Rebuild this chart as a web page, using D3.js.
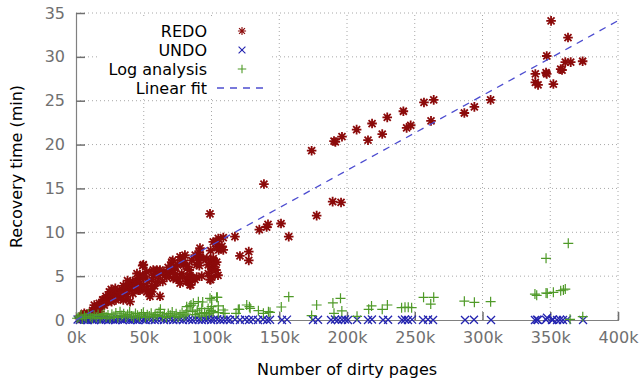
<!DOCTYPE html>
<html>
<head>
<meta charset="utf-8">
<script src="https://cdn.jsdelivr.net/npm/d3@7"></script>
<style>
	body { margin: 0; background: #ffffff; }
	text { font-family: "DejaVu Sans", sans-serif; }
</style>
</head>
<body>
<div id="chart"></div>
<script>
// recovery time vs dirty pages

// x: thousands of dirty pages, y: minutes
var redo = [
	[2.5,0.19],[4.9,0.38],[5.4,0.57],[6.1,0.76],[7.4,0.57],[9.8,0.76],[10.3,0.76],[12.3,1.1],[13.5,1.7],[14.8,1.5],
	[15.3,1.33],[17.2,1.9],[17.2,1.3],[17.7,0.95],[19.0,1.71],[19.7,2.3],[20.1,2.28],[20.9,1.7],[22.1,2.7],[22.7,2.09],
	[23.4,2.1],[24.6,3.2],[25.1,2.66],[25.8,2.3],[26.3,2.09],[27.1,2.85],[27.5,3.04],[28.3,3.0],[29.5,2.3],[30.0,3.04],
	[32.0,2.85],[32.0,3.4],[32.5,2.66],[34.5,3.4],[34.9,2.28],[36.9,3.0],[36.9,3.8],[37.4,2.66],[39.3,3.4],[39.9,2.09],
	[39.9,3.8],[40.6,4.0],[41.8,4.4],[42.3,4.2],[43.0,3.6],[44.3,4.2],[44.8,4.4],[45.5,4.6],[46.0,3.4],[47.2,3.4],
	[47.2,4.2],[47.2,5.1],[48.0,3.8],[49.2,4.9],[49.2,6.2],[49.7,3.8],[49.7,6.3],[52.2,3.2],[52.2,3.6],[52.2,5.5],
	[54.6,2.7],[54.6,3.0],[55.9,3.2],[55.9,3.6],[57.0,5.1],[57.0,5.7],[59.6,5.7],[60.7,5.1],[62.0,2.7],[62.0,5.4],
	[62.0,5.7],[65.7,5.2],[66.9,4.9],[66.9,5.5],[69.4,5.5],[69.4,5.7],[70.6,6.6],[71.4,6.8],[71.8,4.75],[71.8,5.7],
	[73.3,6.1],[74.3,4.75],[74.8,4.75],[76.8,4.2],[76.8,7.2],[77.3,6.8],[78.0,5.3],[78.7,4.9],[79.2,6.3],[79.2,6.8],
	[80.4,7.4],[81.7,4.4],[82.9,4.4],[83.6,5.7],[84.1,4.0],[84.1,4.9],[84.1,5.1],[84.7,4.0],[85.4,6.8],[86.1,4.75],
	[87.8,4.6],[89.1,4.9],[89.1,6.3],[90.3,6.8],[91.0,6.2],[91.0,7.7],[91.5,7.2],[91.5,8.2],[92.8,5.0],[96.5,7.0],
	[97.6,5.3],[97.6,6.3],[98.9,4.6],[98.9,12.1],[99.4,4.6],[99.4,6.8],[99.4,7.9],[100.1,4.9],[100.1,5.9],[100.4,5.8],
	[101.3,6.8],[101.3,7.0],[101.3,8.9],[102.3,6.4],[103.3,5.7],[103.3,8.9],[103.8,6.6],[103.8,8.4],[104.8,5.1],[105.0,9.3],
	[105.3,8.0],[106.3,8.2],[107.7,8.4],[108.7,8.0],[108.7,9.4],[117.3,9.5],[121.0,7.3],[127.5,6.8],[127.5,7.8],[135.3,10.3],
	[138.7,15.5],[140.7,10.6],[141.7,10.9],[151.3,11.0],[157.0,9.5],[173.9,19.3],[177.6,11.9],[189.4,13.5],[190.4,20.4],[191.4,20.3],
	[195.6,13.4],[196.3,20.9],[207.1,21.7],[215.5,20.5],[218.5,22.4],[226.0,21.2],[229.7,23.1],[241.6,23.8],[244.0,21.9],[247.0,22.2],
	[256.8,24.8],[262.0,22.7],[264.0,25.1],[286.6,23.6],[294.0,24.3],[306.0,25.1],[339.0,28.05],[339.0,27.1],[341.0,26.8],[346.9,28.2],
	[347.4,28.05],[347.4,30.1],[350.6,34.1],[352.3,26.9],[357.7,28.6],[358.7,28.5],[361.1,29.4],[363.1,32.2],[365.1,29.4],[373.9,29.5],
	[26.0,3.5],[29.0,3.6],[31.0,2.5],[33.0,3.1],[35.0,3.9],[38.0,4.5],[42.0,3.0],[45.0,5.3],[50.0,5.0],[53.0,4.4],
	[56.0,4.6],[58.0,3.9],[60.0,4.3],[64.0,4.4],[68.0,6.0],[73.0,5.2],[75.0,6.3],[82.0,6.1],[88.0,7.4],[94.0,7.0]
];

var undo = [
	[1.2,0.05],[2.8,0],[4.1,0.1],[5.9,0.02],[7.3,0.06],[8.8,0],[10.4,0.08],[12.1,0.03],[13.5,0],[15.2,0.1],
	[17.0,0.04],[18.6,0],[20.3,0.07],[22.0,0.02],[23.9,0],[25.4,0.09],[27.2,0.03],[29.0,0],[30.7,0.05],[32.6,0.1],
	[34.4,0],[36.1,0.04],[38.0,0.08],[39.8,0],[41.9,0.03],[43.6,0.06],[45.5,0],[47.3,0.1],[49.6,0.02],[51.4,0],
	[53.7,0.07],[55.8,0.03],[58.1,0],[60.3,0.05],[62.7,0.1],[64.9,0],[67.2,0.04],[69.6,0.08],[71.8,0],[74.1,0.03],
	[76.5,0.06],[78.9,0],[81.2,0.1],[83.4,0.02],[85.9,0],[88.3,0.07],[90.6,0.03],[92.8,0],[95.1,0.05],[97.4,0.09],
	[99.7,0],[101.9,0.04],[104.2,0.08],[106.5,0],[108.9,0.03],[111.3,0.06],[113.6,0],[117.3,0.05],[121.0,0],[124.7,0.06],
	[127.7,0],[130.6,0.04],[134.3,0],[138.0,0.05],[141.0,0],[143.2,0.03],[152.0,0],[155.7,0.04],[174.9,0],[178.6,0.03],
	[188.2,0],[191.1,0.05],[193.4,0],[196.3,0.02],[198.5,0.06],[200.7,0],[207.4,0.03],[215.5,0],[218.4,0.05],[226.6,0],
	[230.3,0.03],[240.6,0],[242.8,0.06],[245.0,0],[248.0,0.04],[256.1,0],[259.8,0.05],[263.5,0],[287.1,0],[293.7,0.03],
	[306.3,0],[338.7,0],[340.2,0.04],[340.9,0],[346.9,0.03],[347.6,0.25],[351.3,0],[352.0,0.05],[355.0,0],[357.2,0.03],
	[359.4,0],[362.4,0.04],[374.2,0]
];

var logAnalysis = [
	[0.8,0.2],[2.1,0.35],[3.7,0.57],[4.6,0.15],[6.2,0.45],[7.5,0.25],[9.1,0.68],[10.6,0.4],[12.0,0.2],[13.4,0.55],
	[14.9,0.3],[16.3,0.62],[17.8,0.18],[19.2,0.5],[20.7,0.72],[22.2,0.33],[23.6,0.58],[25.1,0.22],[26.5,0.66],[28.0,0.42],
	[29.4,0.8],[30.9,0.28],[32.5,0.95],[33.8,0.5],[35.2,0.7],[36.7,0.35],[38.1,0.62],[39.6,0.9],[41.0,0.45],[42.5,0.25],
	[43.9,0.75],[45.4,0.55],[46.8,0.38],[48.3,0.68],[49.7,0.85],[51.2,0.3],[52.6,0.6],[54.1,0.45],[55.5,0.78],[57.0,0.35],
	[58.4,0.62],[59.9,0.5],[61.3,0.88],[62.3,1.22],[63.8,0.4],[65.2,0.66],[66.7,0.3],[68.1,0.74],[69.6,0.55],[71.0,0.92],
	[72.5,0.42],[73.9,0.7],[75.4,0.33],[76.8,0.6],[78.3,0.85],[79.7,0.48],[81.2,0.68],[81.7,1.52],[82.6,1.05],[84.1,1.6],
	[84.9,1.7],[86.1,0.95],[86.6,1.9],[88.0,0.62],[89.5,1.12],[90.3,2.09],[91.0,0.76],[92.4,0.45],[92.8,1.33],[93.5,2.05],
	[94.9,0.85],[96.3,0.58],[97.5,1.3],[98.4,0.76],[98.9,2.47],[99.6,1.1],[100.1,2.28],[100.1,1.52],[101.3,0.95],[103.8,2.59],
	[104.3,2.59],[105.0,1.6],[105.0,0.83],[108.7,1.14],[109.9,0.76],[118.1,0.76],[119.8,1.2],[120.5,1.22],[126.0,1.71],[128.5,1.33],
	[128.0,1.52],[134.6,1.06],[138.3,0.76],[142.0,0.95],[143.2,0.88],[151.5,1.48],[157.0,2.66],[173.9,0.5],[177.6,1.71],[189.6,1.95],
	[190.4,0.76],[195.2,2.47],[196.2,1.03],[207.4,0.42],[216.0,1.22],[218.1,1.6],[226.0,1.22],[229.8,1.71],[240.3,1.4],[242.8,1.45],
	[245.2,1.45],[247.7,1.4],[256.5,2.59],[261.8,1.82],[264.0,2.59],[286.6,2.15],[294.0,2.02],[306.0,2.09],[338.7,2.96],[340.0,2.81],
	[346.9,3.08],[347.8,3.04],[352.3,3.16],[357.7,3.34],[359.7,3.42],[361.1,3.53],[346.9,7.03],[363.3,8.74],[364.6,0.08],[374.0,0.38]
];

// linear fit  y = slope * x + intercept
var fitSlope = 0.0853;
var fitIntercept = 0;

var xTicks = [0,50,100,150,200,250,300,350,400];
var yTicks = [0,5,10,15,20,25,30,35];
var legendLabels = ["REDO","UNDO","Log analysis","Linear fit"];

var width = 640, height = 380;
var plotLeft = 76, plotRight = 618, plotTop = 13, plotBottom = 320;

var svg = d3.select('#chart')
	.append('svg')
	.attr('width',width)
	.attr('height',height);

var x = d3.scaleLinear().domain([0,400]).range([plotLeft,plotRight]);
var y = d3.scaleLinear().domain([0,35]).range([plotBottom,plotTop]);

// grid
svg.append('g').selectAll('line')
	.data(xTicks.filter(function(d){return d>0;}))
	.enter().append('line')
	.attr('x1',function(d){return x(d);}).attr('x2',function(d){return x(d);})
	.attr('y1',plotBottom).attr('y2',plotTop)
	.attr('stroke','#a8a8a8').attr('stroke-width',1)
	.attr('stroke-dasharray','1,3');
svg.append('g').selectAll('line')
	.data(yTicks.filter(function(d){return d>0;}))
	.enter().append('line')
	.attr('x1',plotLeft).attr('x2',plotRight)
	.attr('y1',function(d){return y(d);}).attr('y2',function(d){return y(d);})
	.attr('stroke','#a8a8a8').attr('stroke-width',1)
	.attr('stroke-dasharray','1,3');

// legend background hides grid
svg.append('rect')
	.attr('x',100).attr('y',19)
	.attr('width',172).attr('height',77)
	.attr('fill','#ffffff');

// axes (bottom/left only, ticks inward)
var xAxis = d3.axisBottom(x).tickValues(xTicks).tickSize(-8).tickPadding(12)
	.tickFormat(function(d){return d+'k';});
var yAxis = d3.axisLeft(y).tickValues(yTicks).tickSize(-9).tickPadding(11);

var gx = svg.append('g').attr('transform','translate(0,'+plotBottom+')').call(xAxis);
var gy = svg.append('g').attr('transform','translate('+plotLeft+',0)').call(yAxis);
[gx,gy].forEach(function(g){
	g.select('.domain').attr('stroke','#808080').attr('stroke-width',1.2);
	g.selectAll('.tick line').attr('stroke','#707070').attr('stroke-width',1.5);
	g.selectAll('.tick text')
		.attr('fill','#707070')
		.style('font-size','16px')
		.style('font-family','"DejaVu Sans", sans-serif');
});
gx.selectAll('.tick text').attr('dy','0.71em');

// axis titles
svg.append('text')
	.attr('x',(plotLeft+plotRight)/2).attr('y',375)
	.attr('text-anchor','middle')
	.style('font-size','16px')
	.text('Number of dirty pages');
svg.append('text')
	.attr('transform','translate(22,'+((plotTop+plotBottom)/2)+') rotate(-90)')
	.attr('text-anchor','middle')
	.style('font-size','16px')
	.text('Recovery time (min)');

// marker shapes
var starPath = 'M-4.8,0H4.8M0,-4.8V4.8M-3.5,-3.5L3.5,3.5M-3.5,3.5L3.5,-3.5';
var crossPath = 'M-4,-4L4,4M-4,4L4,-4';
var plusPath = 'M-5,0H5M0,-5V5';

function drawSeries(data, path, color, sw){
	svg.append('g').selectAll('path')
		.data(data)
		.enter().append('path')
		.attr('d',path)
		.attr('transform',function(d){return 'translate('+x(d[0])+','+y(d[1])+')';})
		.attr('fill','none')
		.attr('stroke',color)
		.attr('stroke-width',sw);
}

drawSeries(redo, starPath, '#8b0a0a', 1.8);
drawSeries(undo, crossPath, '#2424b0', 1.3);
drawSeries(logAnalysis, plusPath, '#4f9a28', 1.2);

// fit line
svg.append('line')
	.attr('x1',x(0)).attr('y1',y(fitIntercept))
	.attr('x2',x(400)).attr('y2',y(fitSlope*400+fitIntercept))
	.attr('stroke','#4d4dd0')
	.attr('stroke-width',1.3)
	.attr('stroke-dasharray','7,6');

// legend
var legendColors = ['#8b0a0a','#2424b0','#4f9a28','#4d4dd0'];
var legendPaths = [starPath, crossPath, plusPath];
var lg = svg.append('g');
legendLabels.forEach(function(label,i){
	var ly = 31 + i*19;
	lg.append('text')
		.attr('x',207).attr('y',ly)
		.attr('dy','0.35em')
		.attr('text-anchor','end')
		.style('font-size','16px')
		.text(label);
	if(i<3){
		lg.append('path')
			.attr('d',legendPaths[i])
			.attr('transform','translate(242,'+ly+') scale(0.85)')
			.attr('fill','none')
			.attr('stroke',legendColors[i])
			.attr('stroke-width',1.3);
	} else {
		lg.append('line')
			.attr('x1',217).attr('x2',263)
			.attr('y1',ly).attr('y2',ly)
			.attr('stroke',legendColors[i])
			.attr('stroke-width',1.3)
			.attr('stroke-dasharray','7,6');
	}
});
</script>
</body>
</html>
